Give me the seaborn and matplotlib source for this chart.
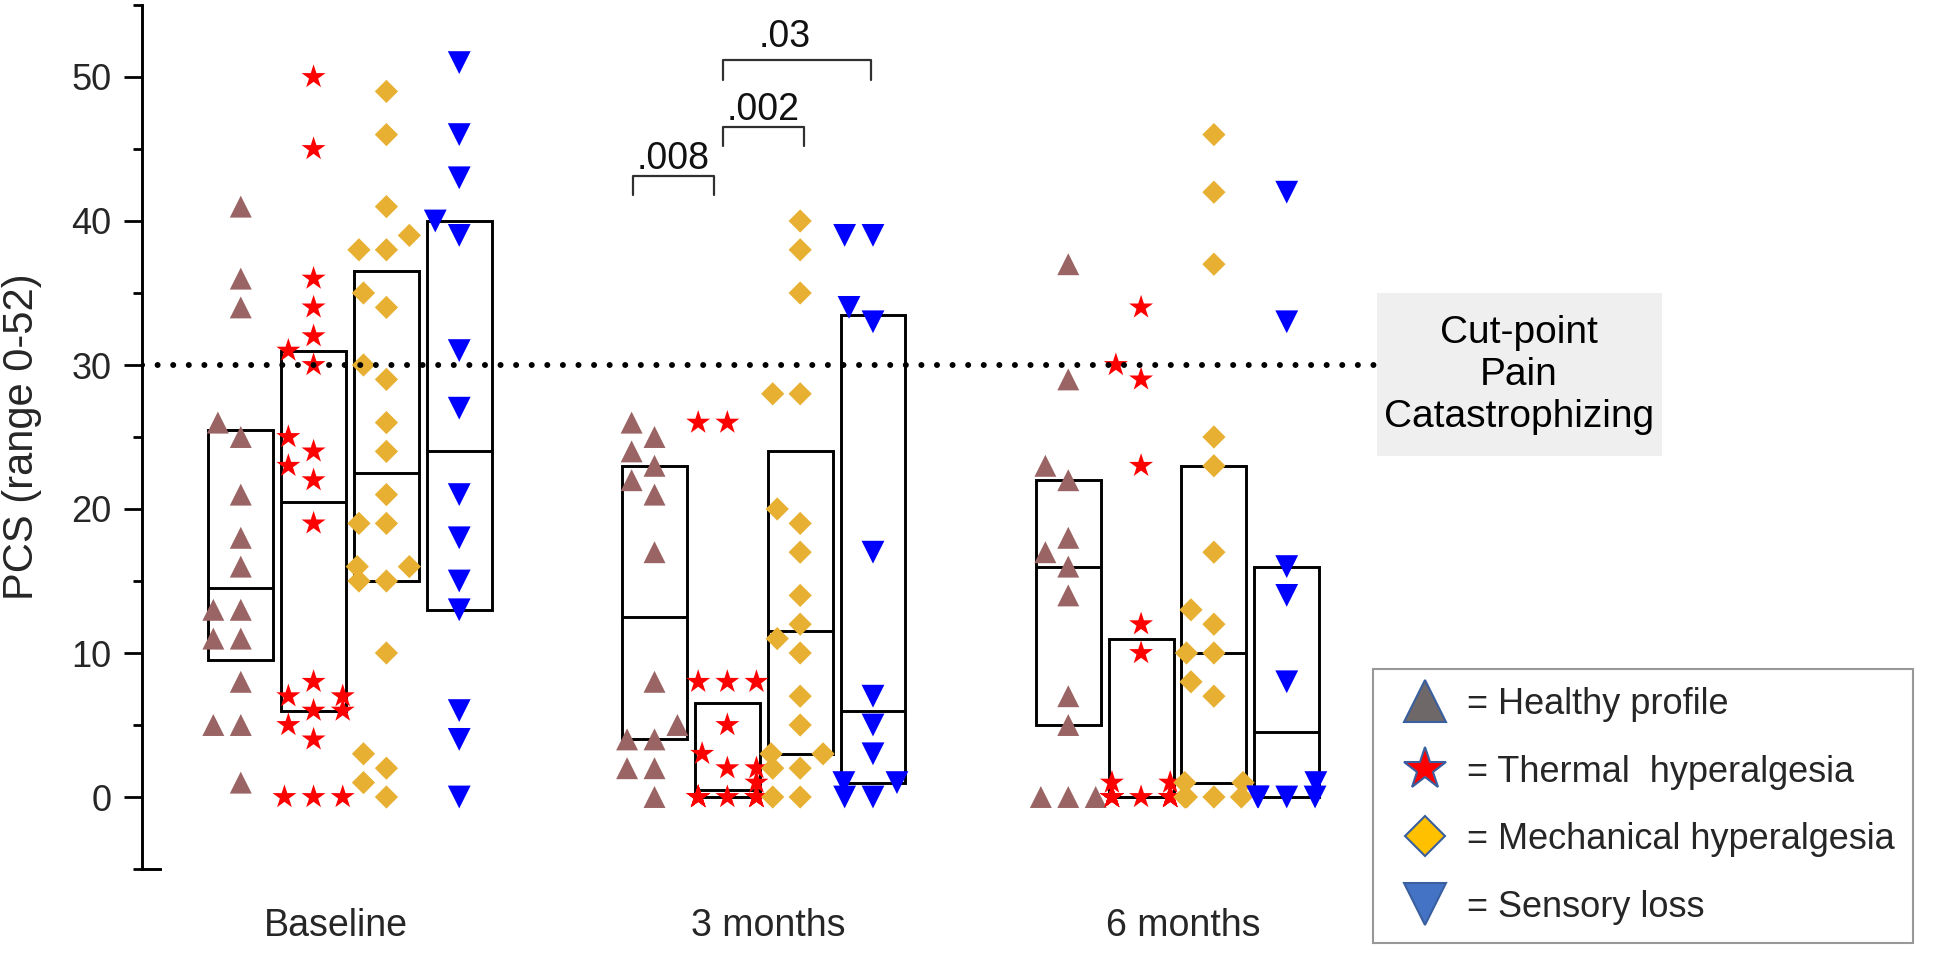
import numpy as np
import pandas as pd
import matplotlib
matplotlib.use("Agg")
import matplotlib.pyplot as plt
import seaborn as sns
from matplotlib.markers import MarkerStyle
from matplotlib.lines import Line2D
from matplotlib.patches import Rectangle

# ---------------- data ----------------
times = ["Baseline", "3 months", "6 months"]
profiles = ["Healthy profile", "Thermal hyperalgesia", "Mechanical hyperalgesia", "Sensory loss"]

baseline_healthy = [41, 36, 34, 26, 25, 21, 18, 16, 13, 13, 11, 11, 8, 5, 5, 1]
baseline_thermal = [50, 45, 36, 34, 32, 31, 30, 25, 24, 23, 22, 19, 8, 7, 7, 6, 6, 5, 4, 0, 0, 0]
baseline_mechanical = [49, 46, 41, 39, 38, 38, 35, 34, 30, 29, 26, 24, 21, 19, 19, 16, 16, 15, 15, 10, 3, 2, 1, 0]
baseline_sensory = [51, 46, 43, 40, 39, 31, 27, 21, 18, 15, 13, 6, 4, 0]

m3_healthy = [26, 25, 24, 23, 22, 21, 17, 8, 5, 4, 4, 2, 2, 0]
m3_thermal = [26, 26, 8, 8, 8, 5, 3, 2, 2, 1, 0, 0, 0, 0, 0, 0, 0, 0, 0, 0]
m3_mechanical = [40, 38, 35, 28, 28, 20, 19, 17, 14, 12, 11, 10, 7, 5, 3, 3, 2, 2, 0, 0]
m3_sensory = [39, 39, 34, 33, 17, 7, 5, 3, 1, 1, 0, 0]

m6_healthy = [37, 29, 23, 22, 18, 17, 16, 14, 7, 5, 0, 0, 0]
m6_thermal = [34, 30, 29, 23, 12, 10, 1, 1, 0, 0, 0, 0, 0, 0, 0, 0, 0, 0, 0, 0]
m6_mechanical = [46, 42, 37, 25, 23, 17, 13, 12, 10, 10, 8, 7, 1, 1, 0, 0, 0, 0]
m6_sensory = [42, 33, 16, 14, 8, 1, 0, 0, 0, 0]

series = [
    [baseline_healthy, baseline_thermal, baseline_mechanical, baseline_sensory],
    [m3_healthy, m3_thermal, m3_mechanical, m3_sensory],
    [m6_healthy, m6_thermal, m6_mechanical, m6_sensory],
]

cutpoint = 30
pvalues = [".008", ".002", ".03"]

# ---------------- style ----------------
colors = {"Healthy profile": "#9b6464", "Thermal hyperalgesia": "#ff0000",
          "Mechanical hyperalgesia": "#e8b032", "Sensory loss": "#0000ff"}
markers = ["^", "*", "D", "v"]
msizes = [250, 330, 140, 270]
pads = [3, 2, 7, 3]

sns.set_theme(style="white")
plt.rcParams["font.family"] = ["Liberation Sans", "DejaVu Sans"]

W, H = 1944, 955
fig = plt.figure(figsize=(W / 100, H / 100), dpi=100)
ax_left, ax_right, ax_top, ax_bot = 142, 1377, 5, 869
ax = fig.add_axes([ax_left / W, 1 - ax_bot / H, (ax_right - ax_left) / W, (ax_bot - ax_top) / H])

d = 0.176
offsets = np.array([-1.5, -0.5, 0.5, 1.5]) * d
box_w = 0.157

rows = []
for g, t in enumerate(times):
    for k, p in enumerate(profiles):
        for v in series[g][k]:
            rows.append({"pos": g + offsets[k], "profile": p, "value": v})
df = pd.DataFrame(rows)


def hinges(vals):
    s = np.sort(np.asarray(vals, dtype=float))
    n = len(s)
    half = (n + 1) // 2
    return np.median(s[:half]), np.median(s), np.median(s[n - half:])


# boxes (Tukey hinges, no whiskers)
for g in range(3):
    for k in range(4):
        q1, med, q3 = hinges(series[g][k])
        x = g + offsets[k]
        ax.bar(x, q3 - q1, bottom=q1, width=box_w, fill=False, edgecolor="black",
               linewidth=2.1, zorder=2)
        ax.plot([x - box_w / 2, x + box_w / 2], [med, med], color="black", lw=2.1, zorder=2,
                solid_capstyle="butt")

n_before = len(ax.collections)
sns.swarmplot(data=df, x="pos", y="value", hue="profile", hue_order=profiles,
              palette=colors, native_scale=True, orient="x", size=16,
              linewidth=3, edgecolor=(0, 0, 0, 0), legend=False, ax=ax, zorder=3,
              warn_thresh=1.0)
for coll in ax.collections[n_before:]:
    xc = float(coll.get_offsets()[0, 0])
    k = int(round((xc - round(xc)) / d + 1.5))
    ms = MarkerStyle(markers[k])
    coll.set_paths([ms.get_path().transformed(ms.get_transform())])
    coll.set_sizes([msizes[k]])
    coll.set_linewidth(pads[k])

# cut-point line
ax.axhline(cutpoint, color="black", lw=4.3, ls=(0, (0.01, 2.6)), dash_capstyle="round",
           zorder=4)

# significance brackets
def px2x(px):
    return (px - 350) / 413.75

brackets = [
    (px2x(633), px2x(714), 41.8, 43.1, px2x(673), 43.6, pvalues[0]),
    (px2x(723), px2x(804), 45.2, 46.5, px2x(763), 47.0, pvalues[1]),
    (px2x(723), px2x(871), 49.8, 51.2, px2x(785), 52.1, pvalues[2]),
]
for x1, x2, ylo, yhi, xt, yt, lab in brackets:
    ax.plot([x1, x1, x2, x2], [ylo, yhi, yhi, ylo], color="#303030", lw=1.6, zorder=4,
            clip_on=False)
    ax.text(xt, yt, lab, ha="center", va="baseline", fontsize=27, color="#111111")

# axes
ax.set_xlim(px2x(ax_left), px2x(ax_right))
ax.set_ylim(-5, 55)
ax.set_xticks([-0.035, 1.012, 2.014])
ax.set_xticklabels(times, fontsize=27)
ax.set_yticks(range(0, 51, 10))
ax.set_yticks(range(-5, 56, 10), minor=True)
ax.tick_params(axis="y", which="major", direction="out", length=13, width=2, pad=9,
               labelsize=26, left=True, color="black")
ax.tick_params(axis="y", which="minor", direction="out", length=6.5, width=2, left=True,
               color="black")
ax.tick_params(axis="x", length=0, pad=28)
ax.set_xlabel("")
ax.set_ylabel("PCS (range 0-52)", fontsize=30)
ax.yaxis.set_label_coords(-0.081, 0.5)
for s in ["top", "right"]:
    ax.spines[s].set_visible(False)
for s in ["left", "bottom"]:
    ax.spines[s].set_color("black")
    ax.spines[s].set_linewidth(2.1)
ax.spines["bottom"].set_bounds(px2x(ax_left), px2x(ax_left + 18))
ax.grid(False)

# cut-point box
fig.patches.append(Rectangle((1377 / W, 1 - 456 / H), 285 / W, 163 / H,
                             transform=fig.transFigure, facecolor="#efefef",
                             edgecolor="none", zorder=0))
fig.text(1519 / W, 1 - 375 / H, "Cut-point\nPain\nCatastrophizing", ha="center",
         va="center", fontsize=28, linespacing=1.22, color="black")

# legend
handles = [
    Line2D([], [], ls="none", marker="^", ms=30, mfc="#6e6868", mec="#3a5f9f", mew=1.5),
    Line2D([], [], ls="none", marker="*", ms=32, mfc="#ff0000", mec="#3a5f9f", mew=1.5),
    Line2D([], [], ls="none", marker="D", ms=20, mfc="#ffc000", mec="#3a5f9f", mew=1.5),
    Line2D([], [], ls="none", marker="v", ms=30, mfc="#4472c4", mec="#3a5f9f", mew=1.5),
]
labels = ["= Healthy profile", "= Thermal  hyperalgesia", "= Mechanical hyperalgesia",
          "= Sensory loss"]
leg = fig.legend(handles, labels, loc="upper left", bbox_to_anchor=(1373 / W, 1 - 669 / H),
                 borderaxespad=0, frameon=True, fancybox=False, fontsize=26,
                 borderpad=0.5, labelspacing=0.9, handlelength=1.9, handletextpad=0.2)
leg.get_frame().set_edgecolor("#7f7f7f")
leg.get_frame().set_linewidth(1.5)

fig.savefig("out.png", dpi=100)
